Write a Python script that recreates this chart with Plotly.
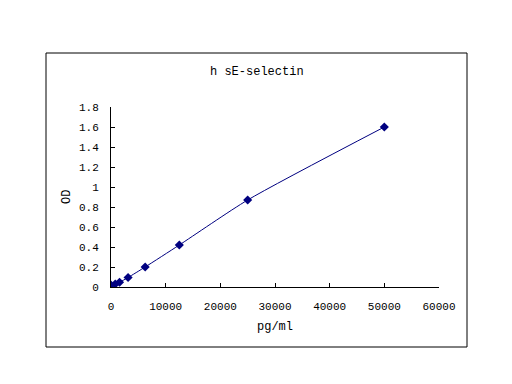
import plotly.graph_objects as go

conc = [0, 781, 1563, 3125, 6250, 12500, 25000, 50000]
od = [0.02, 0.03, 0.047, 0.095, 0.2, 0.42, 0.87, 1.6]

title = "h sE-selectin"
x_title = "pg/ml"
y_title = "OD"

navy = "#000080"
font = "Liberation Mono"

# page body has an 8px margin: figure coords = window coords - 8
L, R, T, B = 103, 431, 99, 279
W, H = 504, 376


def px(x):
    return (x - 8 - L) / (R - L)


def py(y):
    return (B - (y - 8)) / (B - T)


fig = go.Figure()
fig.add_trace(go.Scatter(
    x=conc, y=od, mode="lines+markers",
    line=dict(color=navy, width=1, shape="spline", smoothing=0.6),
    marker=dict(symbol="diamond", size=7, color=navy),
    showlegend=False,
))

fig.update_layout(
    width=W, height=H,
    margin=dict(l=L, r=W - R, t=T, b=H - B),
    paper_bgcolor="white", plot_bgcolor="white",
    font=dict(family=font, size=11, color="black"),
    xaxis=dict(range=[0, 60000], dtick=10000, tickformat="d",
               showline=True, linecolor="black", linewidth=1,
               ticks="inside", ticklen=4, tickcolor="black",
               ticklabelstandoff=9,
               showgrid=False, zeroline=False),
    yaxis=dict(range=[0, 1.8], dtick=0.2,
               showline=True, linecolor="black", linewidth=1,
               ticks="inside", ticklen=4, tickcolor="black",
               ticklabelstandoff=9,
               showgrid=False, zeroline=False),
    shapes=[dict(type="rect", xref="paper", yref="paper",
                 x0=px(46), x1=px(467), y0=py(347), y1=py(53),
                 line=dict(color="black", width=1))],
    annotations=[
        dict(text=title, xref="paper", yref="paper",
             x=px(257), y=py(72), showarrow=False, font=dict(size=12),
             xanchor="center", yanchor="middle"),
        dict(text=x_title, xref="paper", yref="paper",
             x=px(275), y=py(327), showarrow=False, font=dict(size=12),
             xanchor="center", yanchor="middle"),
        dict(text=y_title, xref="paper", yref="paper",
             x=px(67), y=py(197), showarrow=False, font=dict(size=12),
             textangle=-90, xanchor="center", yanchor="middle"),
    ],
)

fig.write_html("out.html")
